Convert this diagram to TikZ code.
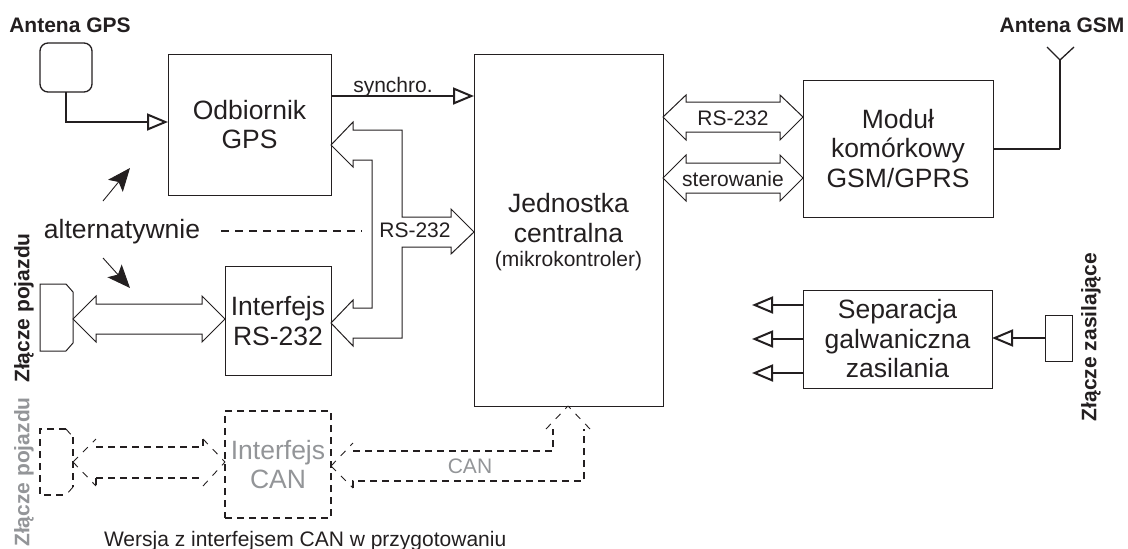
\documentclass[tikz,border=0pt]{standalone}
\usepackage{fontspec}
\setmainfont{Liberation Sans}
\usetikzlibrary{arrows.meta,calc}
\definecolor{ink}{HTML}{231F20}
\definecolor{greytext}{HTML}{939598}
\tikzset{
  x=1pt,y=-1pt,
  every node/.style={text=ink,outer sep=0pt,inner sep=0pt},
  big/.style={font=\fontsize{26.5}{29.5}\selectfont,align=center},
  box/.style={draw=ink,line width=1pt,big},
  dbox/.style={box,line width=1.6pt,dash pattern=on 7pt off 5pt},
  small/.style={font=\fontsize{21}{24}\selectfont},
  bold/.style={font=\fontsize{21}{24}\selectfont\bfseries},
  bus/.style={draw=ink,line width=1pt,line join=miter},
  dshaft/.style={draw=ink,line width=1.5pt,dash pattern=on 7pt off 5pt},
  dhead/.style={draw=ink,line width=0.9pt,dash pattern=on 7pt off 7pt},
  wire/.style={draw=ink,line width=1.3pt},
  hwire/.style={draw=ink,line width=1.8pt},
  opentip/.style={-{Triangle[open,length=21pt,width=17pt,line width=2pt,fill=white]}},
  blacktip/.style={draw=ink,line width=0.9pt,-{Stealth[length=23pt,width=19pt,inset=5pt]}},
}
\begin{document}
\begin{tikzpicture}
\useasboundingbox (0,0) rectangle (1128,549);
% boxes
\node[box,minimum width=52pt,minimum height=49pt,rounded corners=8pt,line width=1.3pt] (antgps) at (66,67.5) {};
\node[box,minimum width=163pt,minimum height=141pt] (odb) at (249.5,124.5) {Odbiornik\\GPS};
\node[box,minimum width=189pt,minimum height=352pt] (cpu) at (568.5,230) {};
\node[big] (cputext) at (568.5,232.5) {Jednostka\\centralna\\[-5pt]{\fontsize{21}{22}\selectfont (mikrokontroler)}};
\node[box,minimum width=106pt,minimum height=109pt] (rs) at (278,321) {Interfejs\\RS-232};
\node[dbox,minimum width=106pt,minimum height=107pt,text=greytext] (can) at (278,464.5) {Interfejs\\CAN};
\node[box,minimum width=190pt,minimum height=137pt] (gsm) at (898,148.5) {Moduł\\komórkowy\\GSM/GPRS};
\node[box,minimum width=189pt,minimum height=98pt] (sep) at (897.5,339) {Separacja\\galwaniczna\\zasilania};
\node[draw=ink,line width=1pt,minimum width=27pt,minimum height=46pt] (pwr) at (1058.5,338) {};
% vehicle connectors
\draw[bus] (40,284) -- (66,284) -- (73,292) -- (73,343) -- (66,351) -- (40,351) -- cycle;
\coordinate (conn) at (73,319);
\draw[dshaft] (66,429) -- (40,429) -- (40,495) -- (66,495);
\draw[dshaft] (73,437) -- (73,487);
\draw[dhead] (66,429) -- (73,437);
\draw[dhead] (73,487) -- (66,495);
\coordinate (dconn) at (73,462);
% labels
\node[bold] (lgps) at (70,25) {Antena GPS};
\node[bold] (lgsm) at (1062,25) {Antena GSM};
\node[bold,rotate=90] (lveh) at (24,308) {Złącze pojazdu};
\node[bold,rotate=90,text=greytext] (lveh2) at (24,472) {Złącze pojazdu};
\node[bold,rotate=90] (lpwr) at (1091,337) {Złącze zasilające};
\node[big,anchor=base] (alt) at (122,238) {alternatywnie};
\node[small,anchor=base] (lsync) at (393,92) {synchro.};
\node[small,anchor=base] (lrs1) at (415,237) {RS-232};
\node[small,anchor=base] (lrs2) at (733,125) {RS-232};
\node[small,anchor=base] (lster) at (733,186) {sterowanie};
\node[small,anchor=base,text=greytext] (lcan) at (470,473) {CAN};
\node[small,anchor=base west] (lwer) at (104,546.7) {Wersja z interfejsem CAN w przygotowaniu};
% signal wires
\draw[wire,opentip] (antgps.south) |- (odb.west |- 0,122);
\draw[hwire,opentip] (odb.east |- 0,96) -- (cpu.west |- 0,96);
\coordinate (antfeed) at (1060,60);
\draw[hwire] (gsm.east |- 0,149) -- (1060,149);
\draw[wire] (1060,149) -- (antfeed);
\draw[wire] (1047,47) -- (antfeed) -- (1074,47);
\draw[hwire,opentip] (pwr.west) -- (sep.east |- pwr.west);
\coordinate (o1) at (752,305);
\coordinate (o2) at (752,339);
\coordinate (o3) at (752,373);
\draw[hwire,opentip] (sep.west |- o1) -- (o1);
\draw[hwire,opentip] (sep.west |- o2) -- (o2);
\draw[hwire,opentip] (sep.west |- o3) -- (o3);
% buses
\draw[bus] (odb.east |- 0,145) -- (353,122) -- (353,130) -- (402,130) -- (402,217) -- (451,217) -- (451,209)
  -- (cpu.west |- 0,232) -- (451,254) -- (451,247) -- (402,247) -- (402,338) -- (353,338) -- (353,346)
  -- (rs.east |- 0,323) -- (353,300) -- (353,308) -- (372,308) -- (372,160) -- (353,160) -- (353,167) -- cycle;
\draw[bus] (conn) -- (96,296) -- (96,304) -- (202,304) -- (202,296) -- (rs.west |- conn) -- (202,342) -- (202,334) -- (96,334) -- (96,342) -- cycle;
\draw[bus] (cpu.east |- 0,117) -- (686,95) -- (686,102) -- (780,102) -- (780,95) -- (gsm.west |- 0,117) -- (780,140) -- (780,132) -- (686,132) -- (686,140) -- cycle;
\draw[bus] (cpu.east |- 0,178) -- (686,155) -- (686,163) -- (780,163) -- (780,155) -- (gsm.west |- 0,178) -- (780,201) -- (780,193) -- (686,193) -- (686,201) -- cycle;
% dashed buses
\draw[dhead] (dconn) -- (96,439);
\draw[dhead] (dconn) -- (96,486);
\draw[dshaft] (96,447) -- (203,447);
\draw[dshaft] (96,478) -- (203,478);
\draw[dhead] (203,439) -- (can.west |- dconn);
\draw[dhead] (203,486) -- (can.west |- dconn);
\draw[dshaft] (203,439) -- (203,447);
\draw[dshaft] (96,478) -- (96,486);
\draw[dhead] (can.east |- 0,466) -- (353,443);
\draw[dhead] (can.east |- 0,466) -- (353,488);
\draw[dshaft] (353,451) -- (553,451) -- (553,429);
\draw[dshaft] (353,488) -- (353,481) -- (584,481) -- (584,429);
\draw[dhead] (546,429) -- (cpu.south -| 568,0);
\draw[dhead] (590,429) -- (cpu.south -| 568,0);
% alternative markers
\coordinate (a1) at (103,201); \coordinate (a1t) at (130,168);
\coordinate (a2) at (103,258); \coordinate (a2t) at (130,288);
\draw[blacktip] (a1) -- (a1t);
\draw[blacktip] (a2) -- (a2t);
\coordinate (d1) at (221,231); \coordinate (d2) at (362,231);
\draw[draw=ink,line width=1.2pt,dash pattern=on 8pt off 6pt] (d1) -- (d2);
\end{tikzpicture}
\end{document}
